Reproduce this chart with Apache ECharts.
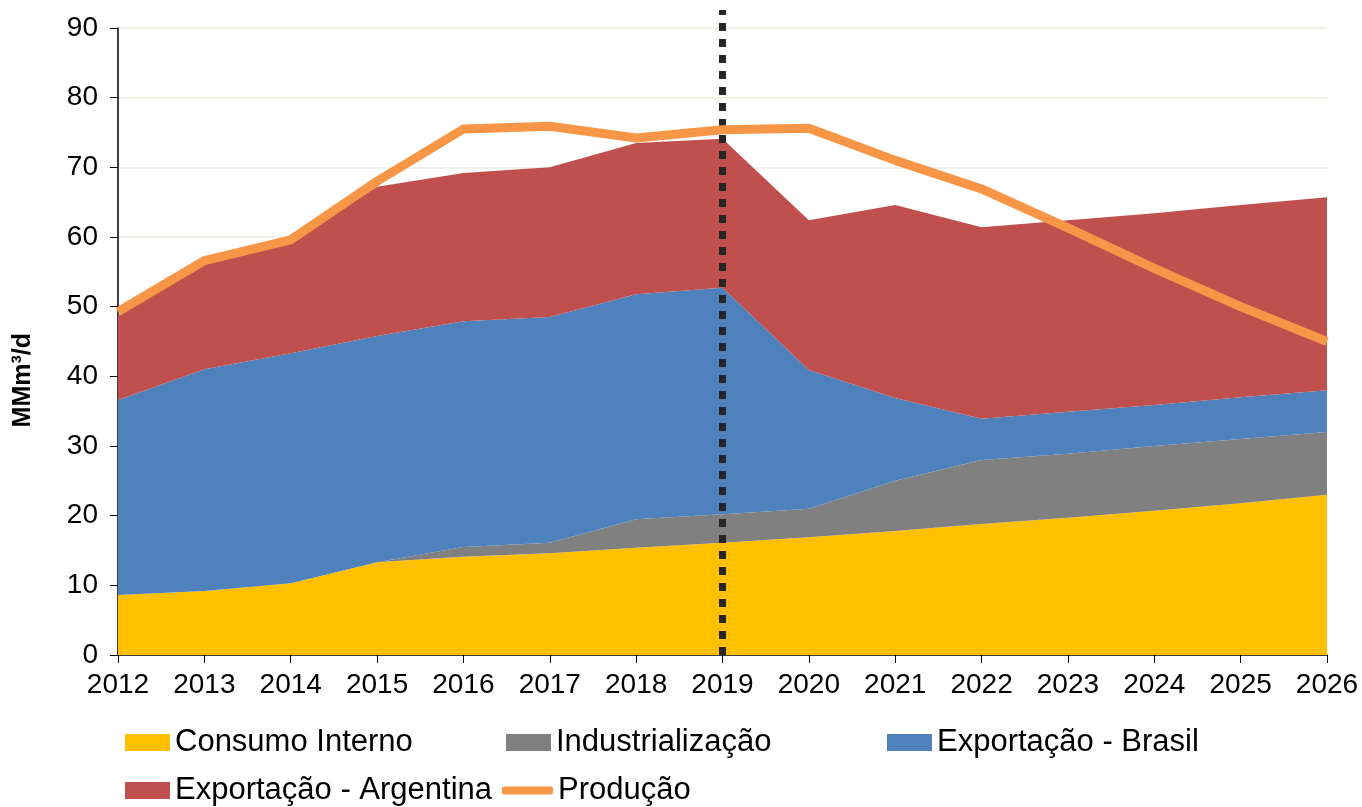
<!DOCTYPE html>
<html>
<head>
<meta charset="utf-8">
<script src="https://cdn.jsdelivr.net/npm/echarts@6/dist/echarts.min.js"></script>
<style>
  html, body { margin: 0; padding: 0; background: #fff; }
  #chart { width: 1362px; height: 807px; }
</style>
</head>
<body>
<div id="chart"></div>
<script>
const years = ['2012', '2013', '2014', '2015', '2016', '2017', '2018', '2019', '2020', '2021', '2022', '2023', '2024', '2025', '2026']
const consumoInterno = [8.6, 9.2, 10.3, 13.3, 14.1, 14.6, 15.4, 16.1, 16.9, 17.8, 18.8, 19.7, 20.7, 21.8, 23.0]
const industrializacao = [0, 0, 0, 0, 1.4, 1.5, 4.1, 4.1, 4.1, 7.2, 9.2, 9.2, 9.3, 9.2, 9.0]
const exportBrasil = [28.0, 31.8, 33.0, 32.5, 32.4, 32.4, 32.3, 32.5, 19.9, 11.9, 5.9, 6.0, 5.9, 6.0, 6.0]
const exportArgentina = [12.1, 15.0, 16.1, 21.4, 21.3, 21.5, 21.7, 21.4, 21.5, 27.7, 27.5, 27.5, 27.5, 27.6, 27.7]
const producao = [49.3, 56.6, 59.6, 68.0, 75.5, 75.9, 74.2, 75.4, 75.6, 71.0, 66.9, 61.3, 55.5, 50.0, 45.0]
const yTicks = { min: 0, max: 90, interval: 10 }
const markYear = '2019'

const chart = echarts.init(document.getElementById('chart'))
const font = 'Liberation Sans, Arial, sans-serif'

const areaSeries = (name, data, color) => ({
  name,
  type: 'line',
  stack: 'total',
  data,
  symbol: 'none',
  lineStyle: { width: 0, opacity: 0 },
  areaStyle: { color, opacity: 1 },
  itemStyle: { color },
  xAxisIndex: 0,
  yAxisIndex: 0
})

const legendText = { fontFamily: font, fontSize: 31, color: '#000' }
const mkLegend = (name, left, top, extra) => Object.assign({
  data: [name],
  left,
  top,
  icon: 'rect',
  itemWidth: 45,
  itemHeight: 17,
  textStyle: legendText,
  selectedMode: false
}, extra || {})

const option = {
  animation: false,
  textStyle: { fontFamily: font },
  grid: [
    { left: 118, right: 35, top: 28, bottom: 152 },
    { left: 118, right: 35, top: 10, bottom: 152 }
  ],
  legend: [
    mkLegend('Consumo Interno', 120, 722),
    mkLegend('Industrialização', 501, 722),
    mkLegend('Exportação - Brasil', 882, 722),
    mkLegend('Exportação - Argentina', 120, 770),
    mkLegend('Produção', 497, 770, { icon: 'roundRect', itemWidth: 51, itemHeight: 8 })
  ],
  xAxis: [
    {
      type: 'category',
      data: years,
      boundaryGap: false,
      gridIndex: 0,
      axisLine: { lineStyle: { color: '#000', width: 1.5 } },
      axisTick: { show: true, length: 8, alignWithLabel: true, lineStyle: { color: '#000' } },
      axisLabel: { fontSize: 28, color: '#000', margin: 16, fontFamily: font }
    },
    {
      type: 'category',
      data: years,
      boundaryGap: false,
      gridIndex: 1,
      show: false
    }
  ],
  yAxis: [
    {
      type: 'value',
      min: yTicks.min,
      max: yTicks.max,
      interval: yTicks.interval,
      gridIndex: 0,
      axisLine: { show: true, lineStyle: { color: '#000', width: 1.5 } },
      axisTick: { show: true, length: 8, lineStyle: { color: '#000' } },
      axisLabel: { fontSize: 28, color: '#000', margin: 20, fontFamily: font },
      splitLine: { lineStyle: { color: '#ECECE2', width: 1.5 } }
    },
    {
      type: 'value',
      min: 0,
      max: 1,
      gridIndex: 1,
      show: false
    }
  ],
  graphic: [
    {
      type: 'text',
      left: 11,
      top: 333,
      rotation: Math.PI / 2,
      style: {
        text: 'MMm³/d',
        font: 'bold 25px ' + font,
        fill: '#000'
      }
    }
  ],
  series: [
    areaSeries('Consumo Interno', consumoInterno, '#FFC000'),
    areaSeries('Industrialização', industrializacao, '#808080'),
    areaSeries('Exportação - Brasil', exportBrasil, '#4F81BD'),
    areaSeries('Exportação - Argentina', exportArgentina, '#C0504D'),
    {
      name: 'Produção',
      type: 'line',
      data: producao,
      symbol: 'none',
      lineStyle: { color: '#F79646', width: 9 },
      itemStyle: { color: '#F79646' },
      z: 5
    },
    {
      name: 'marker',
      type: 'line',
      xAxisIndex: 1,
      yAxisIndex: 1,
      data: [],
      z: 6,
      markLine: {
        silent: true,
        symbol: 'none',
        label: { show: false },
        lineStyle: { color: '#262626', width: 7, type: [8, 8], cap: 'butt' },
        data: [{ xAxis: markYear }]
      }
    }
  ]
}

chart.setOption(option)
</script>
</body>
</html>
